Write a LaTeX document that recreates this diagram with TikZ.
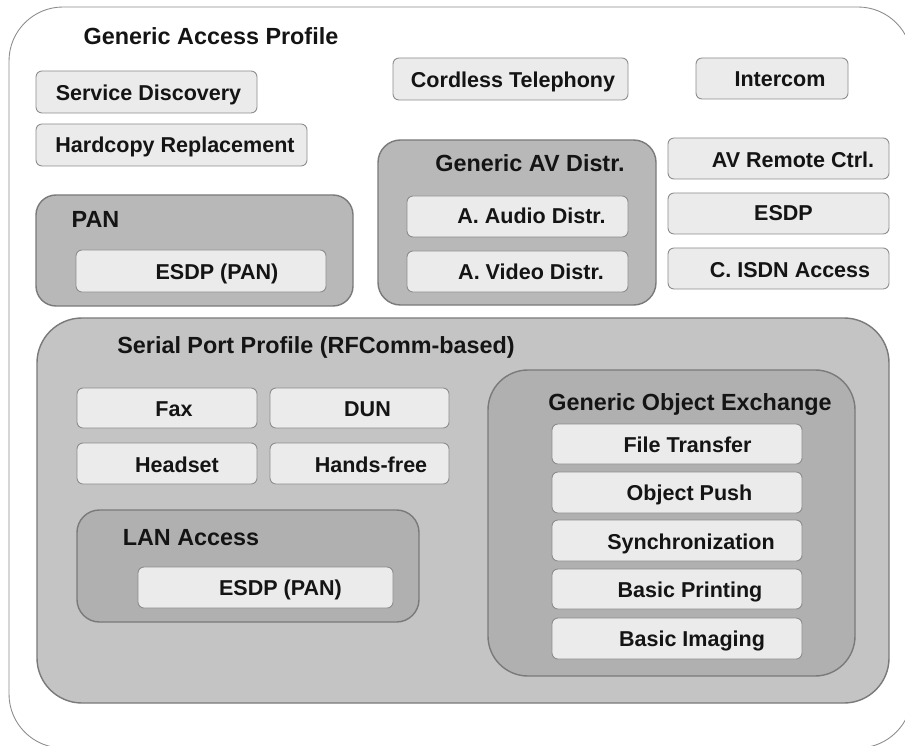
\documentclass[tikz,border=0pt]{standalone}
\usepackage{fontspec}
\setmainfont{Liberation Sans}
\begin{document}
\begin{tikzpicture}[
                x=0.02cm, y=-0.02cm,
                profil/.style={draw=black!45, line width=0.5pt, fill=black!8, rounded corners=0.12cm},
                grupo/.style={draw=black!52, line width=0.8pt, fill=black!28, rounded corners=0.45cm},
                serial/.style={draw=black!52, line width=0.8pt, fill=black!23, rounded corners=0.9cm},
                rotulo/.style={anchor=base, inner sep=0pt, text=black!92, font=\fontsize{12.25}{14}\selectfont\bfseries},
                titulo/.style={rotulo, font=\fontsize{13.3}{15}\selectfont\bfseries},
            ]
            \useasboundingbox (0,0) rectangle (905,746);
            \begin{scope}
                \clip (0,0) rectangle (905,746);
                \draw[draw=black!45, line width=0.5pt, fill=white, rounded corners=1.08cm] (9,7) rectangle (912,748);
            \end{scope}
            \node[titulo] (gap) at (211,45) {Generic Access Profile};
            % perfis soltos
            \draw[profil] (36,71) rectangle (257,113);
            \node[rotulo] (sd) at (148.5,101) {Service Discovery};
            \draw[profil] (36,124) rectangle (307,166);
            \node[rotulo] (hr) at (175,152.5) {Hardcopy Replacement};
            \draw[profil] (393,58) rectangle (628,100);
            \node[rotulo] (ct) at (513,88) {Cordless Telephony};
            \draw[profil] (696,58) rectangle (848,99);
            \node[rotulo] (ic) at (780,87) {Intercom};
            \draw[profil] (668,138) rectangle (889,179);
            \node[rotulo] (avrc) at (793,168) {AV Remote Ctrl.};
            \draw[profil] (668,193) rectangle (889,234);
            \node[rotulo] (esdp) at (783.5,221) {ESDP};
            \draw[profil] (668,248) rectangle (889,289);
            \node[rotulo] (isdn) at (790,277) {C. ISDN Access};
            % AV
            \draw[grupo] (378,140) rectangle (656,305);
            \node[titulo] (gavd) at (530,172) {Generic AV Distr.};
            \draw[profil] (407,196) rectangle (628,237);
            \node[rotulo] (audio) at (531.5,224) {A. Audio Distr.};
            \draw[profil] (407,251) rectangle (628,292);
            \node[rotulo] (video) at (531,279) {A. Video Distr.};
            % PAN
            \draw[grupo, rounded corners=0.4cm] (36,195) rectangle (353,306);
            \node[titulo] (pan) at (95.5,228) {PAN};
            \draw[profil] (76,250) rectangle (326,292);
            \node[rotulo] (esdppan) at (217,279) {ESDP (PAN)};
            % serial
            \draw[serial] (37,318) rectangle (889,703);
            \node[titulo, anchor=base west] (spp) at (117,353) {Serial Port Profile (RFComm-based)};
            \draw[profil] (77,388) rectangle (257,428);
            \node[rotulo] (fax) at (174,416) {Fax};
            \draw[profil] (270,388) rectangle (449,428);
            \node[rotulo] (dun) at (367.5,416) {DUN};
            \draw[profil] (77,443) rectangle (257,484);
            \node[rotulo] (headset) at (177,472) {Headset};
            \draw[profil] (270,443) rectangle (449,484);
            \node[rotulo] (handsfree) at (371,472) {Hands-free};
            \draw[grupo, fill=black!31] (77,510) rectangle (419,622);
            \node[titulo] (lan) at (191,545) {LAN Access};
            \draw[profil] (138,567) rectangle (393,608);
            \node[rotulo] (esdplan) at (280.5,595) {ESDP (PAN)};
            % GOEP
            \draw[grupo, fill=black!31, rounded corners=0.8cm] (488,370) rectangle (855,676);
            \node[titulo] (goep) at (690,410) {Generic Object Exchange};
            \draw[profil] (552,424) rectangle (802,464);
            \node[rotulo] (ft) at (687.5,452) {File Transfer};
            \draw[profil] (552,472) rectangle (802,513);
            \node[rotulo] (op) at (689.5,500) {Object Push};
            \draw[profil] (552,520) rectangle (802,561);
            \node[rotulo] (sync) at (691,549) {Synchronization};
            \draw[profil] (552,569) rectangle (802,609);
            \node[rotulo] (bp) at (690,597) {Basic Printing};
            \draw[profil] (552,618) rectangle (802,659);
            \node[rotulo] (bi) at (692,646) {Basic Imaging};
        \end{tikzpicture}
\end{document}
